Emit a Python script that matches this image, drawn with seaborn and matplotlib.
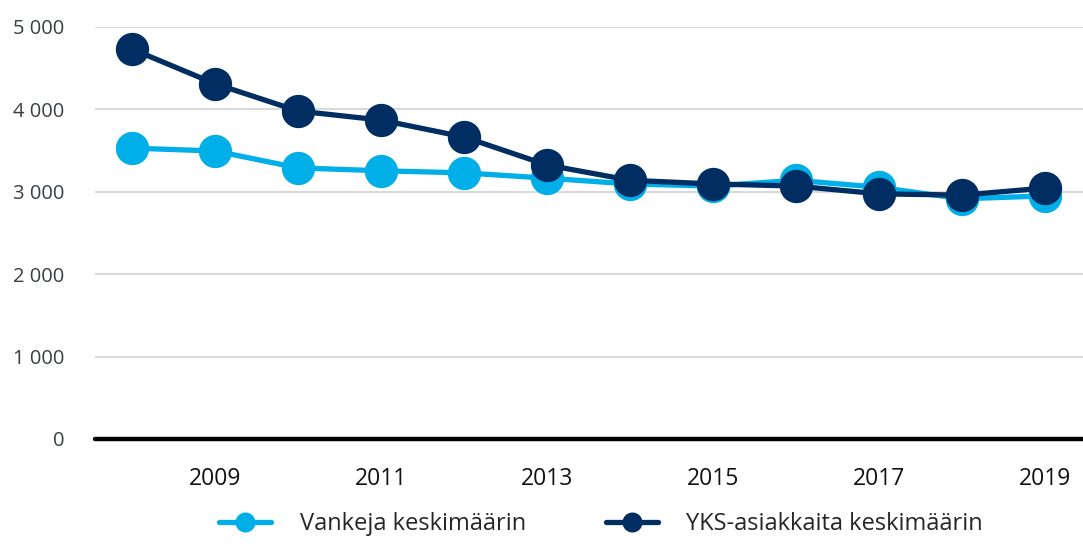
import numpy as np
import pandas as pd
import matplotlib
matplotlib.use("Agg")
import matplotlib.pyplot as plt
import seaborn as sns

years = [2008, 2009, 2010, 2011, 2012, 2013, 2014, 2015, 2016, 2017, 2018, 2019]
vankeja = [3530, 3495, 3290, 3255, 3230, 3165, 3095, 3070, 3140, 3055, 2915, 2950]
yks = [4730, 4310, 3980, 3870, 3665, 3325, 3140, 3095, 3070, 2975, 2960, 3045]
series_names = ["Vankeja keskimäärin", "YKS-asiakkaita keskimäärin"]
xtick_years = [2009, 2011, 2013, 2015, 2017, 2019]
yticks = [0, 1000, 2000, 3000, 4000, 5000]

LIGHT = "#00AEE8"
DARK = "#002D62"


def fmt_thousands(v):
    return f"{int(v):,}".replace(",", " ")


def main():
    sns.set_theme(style="white")
    plt.rcParams["font.family"] = ["Open Sans", "DejaVu Sans"]

    df = pd.DataFrame({
        "vuosi": years * 2,
        "arvo": vankeja + yks,
        "sarja": [series_names[0]] * len(years) + [series_names[1]] * len(years),
    })

    fig = plt.figure(figsize=(10.83, 5.51), dpi=100)
    ax = fig.add_axes([95 / 1083, 1 - 439 / 551, 1 - 95 / 1083, (439 - 27) / 551])

    for name, col in zip(series_names, [LIGHT, DARK]):
        sub = df[df["sarja"] == name]
        sns.lineplot(data=sub, x="vuosi", y="arvo", color=col, linewidth=3.8,
                     marker="o", markersize=24, markeredgewidth=0,
                     label=name, ax=ax, zorder=3)

    ax.set_xlim(2007.55, 2019.46)
    ax.set_ylim(0, 5000)
    ax.set_yticks(yticks)
    ax.set_yticklabels([fmt_thousands(v) for v in yticks], fontsize=14.5, color="#3a3f44")
    ax.set_xticks(xtick_years)
    ax.set_xticklabels([str(y) for y in xtick_years], fontsize=16.5, color="#111111")
    ax.tick_params(axis="both", length=0)
    ax.tick_params(axis="y", pad=22)
    ax.tick_params(axis="x", pad=20)
    ax.set_xlabel("")
    ax.set_ylabel("")

    for v in yticks[1:]:
        ax.axhline(v, color="#d9d9d9", linewidth=1.5, zorder=1)
    ax.axhline(0, color="black", linewidth=3.2, zorder=4, clip_on=False)

    for s in ax.spines.values():
        s.set_visible(False)

    ax.get_legend().remove()
    handles, labels = ax.get_legend_handles_labels()
    fig.legend(handles, labels, loc="lower center", bbox_to_anchor=(0.555, -0.012),
               ncol=2, frameon=False, fontsize=17, markerscale=0.6,
               handlelength=2.2, columnspacing=3.4, handletextpad=1.2)

    fig.savefig("out.png", dpi=100)


if __name__ == "__main__":
    main()
